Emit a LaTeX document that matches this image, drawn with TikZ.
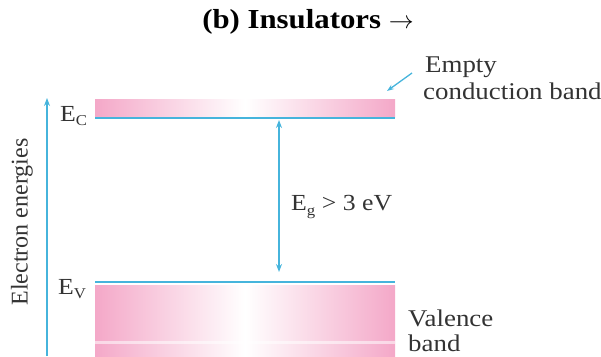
\documentclass[tikz,border=0pt]{standalone}
\usepackage{fontspec}
\setmainfont{Liberation Serif}[FakeStretch=1.12]
\newfontfamily\plainfont{Liberation Serif}
\usetikzlibrary{arrows.meta}
\definecolor{linecyan}{RGB}{70,180,220}
\definecolor{bandpink}{RGB}{244,168,200}
\newcommand\bsub[1]{\raisebox{-0.45ex}{\fontsize{15}{15}\selectfont #1}}
\tikzset{
  lbl/.style={inner sep=0pt, font=\fontsize{23}{27}\selectfont, text=black!80, align=left},
  rlbl/.style={inner sep=0pt, font=\fontsize{24}{28}\selectfont, text=black!80, anchor=base west},
  level/.style={draw=linecyan, line width=2pt},
  arr/.style={draw=linecyan, line width=1.3pt, -{Stealth[length=8pt,width=6pt]}},
}
\begin{document}
\begin{tikzpicture}[x=1pt,y=-1pt]
\useasboundingbox (0,0) rectangle (601,356);
% title
\node[inner sep=0pt, font=\fontsize{27.5}{30}\selectfont\bfseries] (title) at (308,22) {(b) Insulators $\rightarrow$};
% conduction band
\shade[left color=bandpink, right color=bandpink, middle color=white] (95,99) rectangle (395,117);
\coordinate (cL) at (95,118);
\coordinate (cR) at (395,118);
\draw[level] (cL) -- (cR);
% valence band
\shade[left color=bandpink, right color=bandpink, middle color=white] (95,285) rectangle (395,356);
\fill[white, opacity=0.55] (95,341) rectangle (395,344);
\coordinate (vL) at (95,282);
\coordinate (vR) at (395,282);
\draw[level] (vL) -- (vR);
% energy axis
\coordinate (axB) at (47,356);
\coordinate (axT) at (47,98);
\draw[arr] (axB) -- (axT);
\node[lbl, rotate=90, font=\plainfont\fontsize{24}{28}\selectfont] (ee) at (22,222) {Electron energies};
% level labels
\node[lbl, anchor=west] (Ec) at (60,116) {E\bsub{C}};
\node[lbl, anchor=west] (Ev) at (58,289) {E\bsub{V}};
% gap
\coordinate (gT) at (279,120);
\coordinate (gB) at (279,272);
\draw[arr, {Stealth[length=8pt,width=6pt]}-{Stealth[length=8pt,width=6pt]}] (gT) -- (gB);
\node[lbl, anchor=west] (Eg) at (291,207) {E\bsub{g} > 3 eV};
% right labels
\node[rlbl] (empty) at (425,72) {Empty};
\node[rlbl] (cb) at (423,99) {conduction band};
\node[rlbl] (val) at (408,326) {Valence};
\node[rlbl] (vb) at (408,351) {band};
\coordinate (pA) at (412,73);
\coordinate (pB) at (387,91);
\draw[draw=linecyan, line width=1.3pt, -{Stealth[length=7pt,width=5pt]}] (pA) -- (pB);
\end{tikzpicture}
\end{document}
